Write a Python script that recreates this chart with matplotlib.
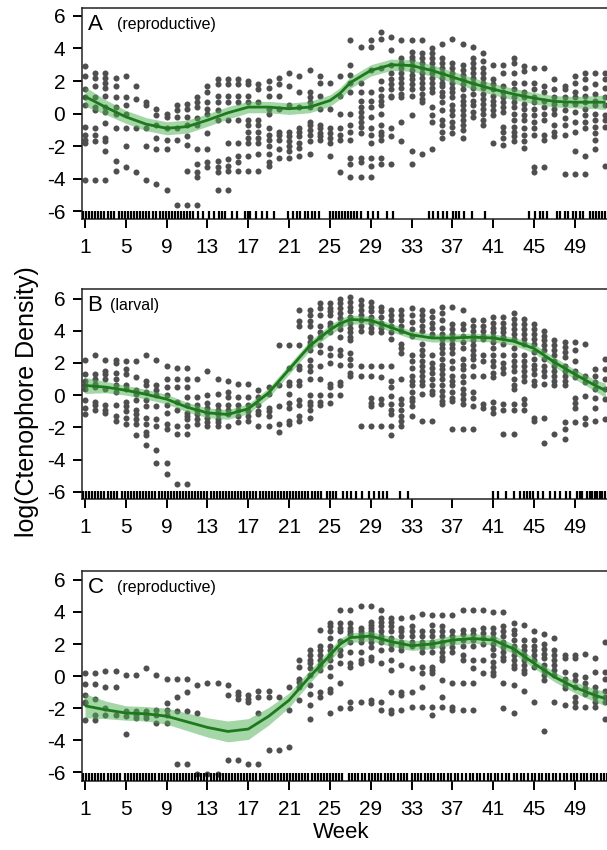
import numpy as np
import matplotlib
matplotlib.use('Agg')
import matplotlib.pyplot as plt

plt.rcParams['font.family'] = ['Liberation Sans', 'DejaVu Sans']

# log(ctenophore density) observations per week (weeks 1..52), three panels
weeks = list(range(1, 53))

pts_a = [
    [2.9, 2.3, 1.5, 1.0, 0.5, -0.8, -1.3, -1.6, -1.8, -4.1],
    [2.5, 2.2, 1.7, 1.0, 0.4, 0.2, -0.9, -1.3, -1.7, -4.1],
    [2.5, 2.2, 1.9, 1.6, 1.1, 0.4, 0.1, -0.6, -1.5, -1.7, -2.3, -4.1],
    [2.2, 1.7, 1.0, 0.4, 0.0, -0.9, -2.9, -3.5],
    [2.3, 1.0, 0.5, 0.0, -0.9, -2.0, -3.3],
    [1.7, 0.9, -0.9, -3.6],
    [0.7, 0.5, -0.9, -2.0, -4.1],
    [0.3, -0.1, -0.7, -1.5, -2.2, -4.3],
    [0.0, -0.2, -0.9, -1.6, -2.2, -4.7],
    [0.5, 0.2, -0.2, -0.9, -1.6, -5.6],
    [0.6, 0.3, -0.2, -0.7, -1.4, -1.9, -3.5, -5.6],
    [1.0, 0.7, 0.4, -0.3, -0.7, -2.2, -3.1, -3.6, -3.9, -5.6],
    [1.7, 1.3, 0.7, 0.3, 0.0, -1.2, -2.2, -3.0, -3.3],
    [2.1, 1.8, 1.1, 0.7, 0.2, -0.4, -2.9, -3.3, -3.6, -4.7],
    [2.1, 1.8, 1.1, 0.7, -0.4, -1.8, -2.8, -3.2, -3.5, -4.7],
    [2.1, 1.8, 1.1, 0.7, -0.4, -1.8, -2.6, -3.0, -3.5],
    [2.0, 1.8, 1.1, 0.7, -0.4, -0.7, -1.1, -1.5, -1.8, -2.6, -3.5],
    [1.8, 1.5, 0.7, -0.4, -0.7, -1.1, -1.5, -1.8, -2.5, -3.5],
    [2.0, 1.6, 1.1, 0.3, 0.0, -0.9, -1.3, -1.6, -2.0, -2.5, -3.0, -3.2],
    [2.2, 1.8, 1.1, 0.3, -1.1, -1.3, -1.6, -2.2, -2.7],
    [2.5, 1.7, 0.5, -1.1, -1.4, -1.7, -2.0, -2.3, -2.7],
    [2.3, 1.3, 0.4, -0.9, -1.1, -1.4, -1.8, -2.1, -2.6],
    [2.7, 1.3, 1.0, 0.7, 0.4, -0.5, -0.7, -1.0, -1.3, -1.7, -2.5],
    [2.3, 1.9, 1.1, 0.3, -0.7, -0.9, -1.2, -1.4, -1.6],
    [1.9, 0.3, -0.9, -1.2, -1.5, -1.8, -2.6],
    [2.3, 1.1, 0.0, -0.9, -1.3, -1.6, -3.6],
    [4.5, 3.0, 2.4, 1.9, 1.3, 0.0, -0.7, -1.1, -1.6, -2.7, -3.1, -3.9],
    [4.1, 1.9, 1.3, 0.8, 0.4, 0.1, -0.2, -0.5, -0.8, -1.2, -2.7, -3.0, -3.9],
    [4.5, 4.1, 2.7, 1.3, 0.8, 0.4, -0.2, -0.9, -1.3, -1.8, -2.7, -3.2, -3.9],
    [5.0, 4.6, 2.8, 2.0, 1.5, 1.1, 0.8, 0.5, 0.0, -0.7, -1.1, -1.3, -1.6, -2.7, -3.1],
    [4.7, 3.9, 3.0, 2.5, 2.1, 1.8, 1.5, 1.1, 1.0, -0.9, -1.4, -3.1],
    [4.5, 3.4, 3.1, 2.8, 2.5, 2.2, 1.9, 1.6, 1.2, 1.0, -0.5, -1.7],
    [4.5, 3.8, 3.5, 3.3, 3.0, 2.7, 2.4, 2.1, 1.8, 1.5, 1.1, -0.1, -2.3, -3.1],
    [4.5, 3.7, 3.4, 3.1, 2.8, 2.5, 2.2, 1.9, 1.6, 1.2, 0.9, 0.7, -2.5],
    [4.0, 3.7, 3.4, 3.1, 2.8, 2.5, 2.2, 1.9, 1.6, 1.3, 0.4, -0.1, -0.5, -2.2],
    [4.3, 3.4, 3.1, 2.8, 2.5, 2.2, 1.9, 1.7, 1.3, 1.1, 0.7, 0.2, -0.4, -0.7, -1.1, -1.5],
    [4.6, 3.1, 2.8, 2.5, 2.2, 1.9, 1.6, 1.3, 1.0, 0.5, 0.2, -0.1, -0.5, -0.8, -1.2],
    [4.3, 3.0, 2.7, 2.4, 2.1, 1.8, 1.5, 1.1, 0.8, 0.5, 0.2, -0.1, -0.4, -0.7, -1.0, -1.5],
    [4.1, 3.4, 3.1, 2.8, 2.5, 2.2, 1.9, 1.6, 1.2, 0.8, 0.5, 0.1, -0.2],
    [3.7, 3.2, 2.8, 2.5, 2.2, 1.9, 1.6, 1.2, 0.9, 0.6, 0.3, 0.0, -0.4, -0.7],
    [3.0, 2.1, 1.8, 1.5, 1.1, 0.8, 0.5, 0.2, -0.1, -1.8],
    [3.0, 2.5, 1.7, 1.3, 1.0, 0.7, 0.4, 0.1, -0.8, -1.1, -1.5, -1.9],
    [3.4, 3.1, 2.5, 1.9, 1.5, 1.0, 0.7, 0.4, 0.0, -0.4, -0.8, -1.1, -1.4, -1.7],
    [2.9, 2.6, 1.9, 1.3, 1.0, 0.6, 0.3, -0.1, -0.4, -0.9, -1.3, -1.7, -2.1],
    [2.8, 1.9, 1.5, 1.0, 0.7, 0.3, -0.1, -0.5, -0.9, -1.3, -3.3, -3.6],
    [2.8, 1.7, 1.3, 0.8, 0.4, 0.0, -0.4, -1.3, -1.6, -3.3],
    [2.1, 1.5, 1.0, 0.6, 0.3, 0.0, -0.7, -1.1, -1.4],
    [1.7, 1.5, 1.0, 0.6, 0.2, -0.3, -0.7, -1.3, -3.7],
    [2.3, 1.9, 1.3, 1.0, 0.6, 0.1, -0.5, -1.1, -2.3, -3.7],
    [2.5, 2.1, 1.6, 1.1, 0.7, 0.3, -0.1, -0.5, -0.9, -2.6, -3.7],
    [2.5, 1.8, 1.2, 0.8, 0.5, 0.0, -0.4, -0.8, -1.2, -1.6, -2.2],
    [2.5, 2.1, 1.6, 1.0, 0.5, -0.1, -0.4, -0.8, -3.2],
]

pts_b = [
    [2.2, 1.3, 0.9, 0.6, 0.4, -0.3, -0.8, -1.2],
    [2.5, 1.3, 1.0, 0.7, 0.5, -0.4, -0.6, -0.9],
    [2.2, 1.5, 1.3, 1.0, 0.4, -0.6, -0.9, -1.1],
    [2.2, 2.0, 1.4, 1.0, 0.6, 0.2, -0.6, -1.3, -1.6],
    [2.1, 1.6, 1.3, 0.6, 0.4, -0.4, -0.7, -1.0, -1.4, -1.8],
    [2.1, 1.1, 0.3, 0.1, -0.3, -0.9, -1.2, -1.5, -1.8, -2.5],
    [2.5, 0.9, 0.6, 0.2, -0.3, -0.7, -1.4, -1.8, -2.3, -2.5, -3.1],
    [2.2, 0.6, 0.3, 0.0, -0.7, -1.5, -1.9, -3.4, -4.2],
    [1.8, 1.0, 0.5, 0.0, -0.6, -1.1, -1.8, -2.1, -4.2, -4.9],
    [1.7, 1.0, 0.5, -0.4, -0.9, -1.9, -2.4, -5.5],
    [1.7, 1.0, 0.5, -0.1, -0.6, -1.1, -1.3, -1.5, -1.9, -2.4, -5.5],
    [1.0, -0.1, -0.6, -0.9, -1.2, -1.5, -1.8],
    [1.5, 0.0, -0.5, -0.8, -1.1, -1.4, -1.7, -1.9],
    [1.0, 0.1, -0.6, -0.9, -1.2, -1.5, -1.7, -1.9],
    [0.9, 0.2, -0.1, -0.6, -0.9, -1.2, -1.9],
    [0.7, -0.1, -0.6, -0.9, -1.3, -1.7],
    [0.7, -0.1, -0.6, -1.0, -1.3, -1.6],
    [0.3, -0.1, -0.6, -1.0, -1.2, -1.9],
    [0.5, 0.1, -0.8, -1.0, -1.3, -1.9],
    [3.1, 0.6, -0.7, -1.8, -2.3],
    [3.1, 1.7, 0.8, 0.6, 0.1, -0.5, -0.8, -1.6, -1.8],
    [5.3, 4.6, 4.3, 3.1, 1.8, 1.6, 0.9, 0.6, -0.3, -0.6, -1.3, -1.6],
    [5.3, 5.0, 4.6, 4.3, 3.6, 3.3, 3.1, 2.8, 2.2, 1.8, 1.5, 1.0, 0.0, -0.4, -0.6, -0.9, -1.4],
    [5.7, 5.4, 5.0, 4.3, 3.9, 3.6, 3.1, 2.7, 1.8, 1.0, 0.0, -0.4, -0.6],
    [5.7, 5.4, 5.2, 5.0, 4.5, 4.3, 3.9, 2.9, 2.5, 2.0, 0.7, 0.5, 0.0, -0.5],
    [6.0, 5.7, 5.4, 5.1, 4.8, 4.4, 4.1, 3.6, 2.8, 2.5, 1.9, 0.8, 0.6, 0.0],
    [6.1, 5.8, 5.5, 5.2, 4.85, 4.5, 4.2, 3.9, 3.6, 3.4, 2.6, 2.25, 1.9, 1.4, 1.2],
    [5.9, 5.6, 5.3, 5.0, 4.65, 4.3, 4.0, 1.8, 1.2, -1.9],
    [5.8, 5.5, 5.2, 4.85, 4.5, 4.2, 3.9, 1.8, 1.2, -0.15, -0.5, -0.7, -1.9],
    [5.5, 5.2, 4.85, 4.5, 4.2, 3.9, 1.8, 1.1, -0.25, -0.56, -1.9],
    [5.3, 5.0, 4.65, 4.3, 3.9, 3.5, 1.8, 0.9, 0.5, -0.05, -0.56, -0.9, -1.2, -1.9, -2.5],
    [5.3, 5.0, 4.65, 4.3, 4.0, 3.2, 2.9, 2.6, 1.0, -0.25, -0.56, -0.9, -1.3, -1.6, -1.9],
    [5.4, 5.0, 4.55, 4.1, 3.7, 2.5, 2.15, 1.7, 1.2, 0.9, 0.6, 0.2, -0.15, -0.35, -0.7, -1.3],
    [5.3, 5.0, 4.65, 4.3, 4.0, 3.2, 2.8, 2.5, 2.15, 1.8, 1.5, 1.2, 0.9, 0.6, 0.06, -1.6],
    [5.2, 4.85, 4.5, 4.2, 3.8, 2.5, 2.0, 1.7, 1.4, 1.0, 0.6, 0.27, 0.06, -1.6],
    [5.5, 5.1, 4.65, 4.2, 3.8, 3.5, 3.2, 2.9, 2.6, 2.25, 1.9, 1.6, 1.3, 1.0, 0.6, 0.27, -0.05, -0.35, -0.56],
    [5.5, 4.4, 4.1, 3.8, 3.5, 3.2, 2.9, 2.6, 2.15, 1.7, 1.2, 0.9, 0.6, 0.2, -0.15, -0.35, -2.1],
    [5.3, 4.4, 4.1, 3.7, 3.3, 2.9, 2.25, 1.9, 1.6, 1.2, 0.8, 0.4, 0.06, -0.25, -0.56, -2.1],
    [4.65, 4.3, 4.0, 3.7, 3.4, 3.1, 2.8, 2.5, 2.25, 1.8, 1.2, 0.2, -0.15, -0.7, -2.1],
    [4.65, 4.3, 4.0, 3.7, 3.5, 2.5, 2.15, 1.2, -0.56, -0.77],
    [4.85, 4.5, 4.2, 3.9, 3.6, 3.3, 2.9, 2.5, 2.15, 1.8, 1.4, 1.1, -0.45, -0.77, -1.1],
    [4.85, 4.5, 4.2, 3.9, 3.6, 3.2, 2.5, 2.0, 1.7, 1.4, -0.56, -0.9, -2.4],
    [5.1, 4.75, 4.4, 4.1, 3.8, 3.5, 2.9, 2.5, 2.15, 1.8, 1.5, 1.0, 0.6, 0.4, -0.56, -0.9, -2.4],
    [4.75, 4.4, 4.1, 3.8, 3.5, 3.2, 2.5, 2.15, 1.8, 1.5, 1.2, 0.9, -0.25, -0.56, -0.9],
    [4.4, 4.1, 3.8, 3.5, 3.2, 2.7, 2.25, 1.9, 1.6, 1.3, 0.9, 0.6, -1.4, -1.6],
    [4.0, 3.7, 3.4, 3.1, 2.8, 2.25, 1.8, 1.5, 1.2, 0.7, -1.4, -2.95],
    [3.4, 3.1, 2.8, 2.5, 2.15, 1.8, 1.5, 1.2, 0.9, 0.6, -2.4],
    [3.3, 3.0, 2.7, 2.35, 1.8, 1.5, 1.2, 0.9, 0.6, -1.7, -2.1, -2.75],
    [3.3, 2.8, 2.15, 1.5, 1.1, -0.15, -0.5, -0.8, -1.7],
    [3.2, 1.2, 0.8, -0.05, -1.4, -1.8],
    [1.6, 1.2, 0.8, 0.4, -0.15, -0.8, -1.6],
    [2.25, 1.6, 1.0, 0.4, -0.25, -1.5],
]

pts_c = [
    [0.2, -0.5, -1.2, -1.6, -1.7, -2.75],
    [0.2, -0.5, -1.4, -2.4, -2.75],
    [0.3, -0.7, -2.0, -2.4],
    [0.3, -0.7, -2.4],
    [0.1, -2.2, -2.5, -3.6],
    [0.1, -2.2, -2.4, -2.6],
    [0.5, -2.2, -2.4, -2.6],
    [0.1, -2.1, -2.4, -2.95],
    [-0.15, -1.7, -2.1, -2.4, -2.95],
    [-0.15, -1.3, -2.2, -5.5],
    [-0.15, -1.0, -2.2, -5.5],
    [-0.56, -2.3, -6.1],
    [-0.45, -6.1],
    [-0.45, -6.1],
    [-0.56, -1.2, -5.25],
    [-1.0, -1.2, -1.4, -5.25],
    [-1.2, -1.4, -1.6, -5.5],
    [-0.9, -1.3, -2.3, -5.5],
    [-0.9, -1.3, -4.6],
    [-1.3, -4.6],
    [-0.7, -2.1, -4.4],
    [1.0, 0.6, -0.15, -0.35, -0.7, -1.5],
    [1.6, 1.3, 1.0, 0.8, 0.5, 0.06, -0.56, -1.1, -1.8, -2.65],
    [2.9, 1.9, 1.6, 1.3, 1.0, 0.7, 0.4, -1.0, -1.3],
    [3.3, 3.1, 2.8, 2.35, 1.9, 1.6, 1.3, 1.0, 0.6, 0.0, -0.8, -1.0, -2.3],
    [4.1, 3.3, 3.0, 2.8, 2.2, 1.6, 1.3, 0.8, -0.4, -2.0],
    [4.1, 3.3, 3.0, 2.8, 2.6, 2.15, 1.5, 0.8, 0.6, -1.6, -2.0],
    [4.4, 3.0, 2.8, 2.6, 2.35, 2.15, 1.5, 1.0, 0.8, -1.6],
    [4.4, 3.4, 3.2, 3.0, 2.8, 2.6, 2.35, 2.15, 1.8, 1.2, 1.0, -1.5, -1.7],
    [4.1, 3.6, 3.4, 3.1, 2.8, 2.5, 2.15, 1.6, 0.8, -1.6, -2.1],
    [3.6, 3.4, 3.1, 2.8, 2.35, 2.0, 1.7, 1.0, 0.4, -1.0, -2.1, -2.3],
    [3.6, 3.0, 2.8, 2.5, 2.15, 1.9, 1.6, 0.7, -1.0, -1.2, -2.1],
    [3.7, 3.1, 2.8, 2.5, 2.15, 1.9, 0.5, -1.0, -1.9],
    [3.9, 2.8, 2.5, 2.15, 1.8, 1.5, 0.6, 0.2, -0.7, -1.9],
    [3.8, 3.2, 2.8, 2.5, 2.15, 1.9, 1.5, 0.6, 0.4, 0.2, -1.9, -2.4],
    [3.8, 3.1, 2.8, 2.5, 2.15, 1.8, 1.5, 1.2, 1.0, -0.25, -1.3, -1.9],
    [3.8, 2.8, 2.5, 2.15, 1.8, 1.5, -0.45, -1.9, -2.1],
    [4.1, 2.9, 2.6, 2.25, 1.9, 1.3, 1.0, -0.45, -2.1],
    [4.1, 2.9, 2.6, 2.25, 1.9, 1.0, 0.5, -0.45, -2.1],
    [4.1, 3.0, 2.7, 2.35, 2.0, 1.0, 0.2],
    [4.0, 3.0, 2.7, 2.35, 2.0, 1.7, 1.3, 0.9, 0.6, 0.27, 0.06],
    [4.0, 3.1, 2.8, 2.5, 2.15, 1.8, 1.5, 1.2, 1.0, -0.45, -2.0],
    [3.3, 2.9, 2.6, 2.25, 1.9, 1.6, 1.3, 1.0, 0.7, 0.5, -0.56, -2.3],
    [3.2, 2.25, 1.9, 1.6, 1.3, 1.0, 0.7, 0.4, 0.2, -0.9],
    [2.8, 2.25, 1.9, 1.6, 1.3, 1.0, 0.6, -1.6],
    [2.6, 2.0, 1.7, 1.4, 1.1, 0.7, 0.4, 0.06, -0.25, -3.4],
    [2.35, 1.6, 1.3, 1.0, 0.7, 0.4, 0.06, -1.6],
    [1.3, 1.1, 0.27, -0.15, -0.56, -0.77, -1.8],
    [1.3, 1.1, 0.06, -0.25, -0.7, -1.3, -1.6, -1.9],
    [1.4, -0.05, -0.45, -0.77, -1.1, -1.9],
    [1.1, 0.27, -0.7, -1.0, -1.3, -1.6, -1.9],
    [2.15, 0.27, -0.15, -0.9, -1.3, -1.6, -2.65],
]

# smoothed trend and half-width of its confidence band
fit_weeks = [1, 3, 5, 7, 9, 11, 13, 15, 17, 19, 21, 23, 25, 26, 27, 29, 31,
             33, 35, 37, 39, 41, 43, 45, 47, 49, 51, 52]
fit_a = [1.05, 0.4, -0.2, -0.65, -0.9, -0.8, -0.4, 0.05, 0.4, 0.4, 0.3, 0.4, 0.8,
         1.25, 1.9, 2.65, 3.0, 2.95, 2.65, 2.25, 1.85, 1.5, 1.2, 0.95, 0.75, 0.7, 0.7, 0.7]
half_a = [0.6, 0.45, 0.4, 0.4, 0.4, 0.4, 0.38, 0.38, 0.35, 0.35, 0.35, 0.35, 0.35,
          0.35, 0.35, 0.35, 0.35, 0.35, 0.35, 0.35, 0.35, 0.35, 0.35, 0.35, 0.35, 0.35, 0.4, 0.45]
fit_b = [0.6, 0.5, 0.3, 0.05, -0.25, -0.75, -1.1, -1.2, -0.85, 0.15, 1.6, 3.05, 4.05,
         4.45, 4.7, 4.65, 4.2, 3.75, 3.55, 3.55, 3.6, 3.55, 3.35, 2.9, 2.05, 1.3, 0.6, 0.3]
half_b = [0.5, 0.35, 0.3, 0.3, 0.3, 0.3, 0.3, 0.3, 0.3, 0.3, 0.3, 0.3, 0.3,
          0.3, 0.28, 0.25, 0.25, 0.25, 0.25, 0.25, 0.25, 0.25, 0.25, 0.28, 0.3, 0.3, 0.35, 0.45]
fit_c = [-1.85, -2.1, -2.3, -2.35, -2.5, -2.85, -3.2, -3.45, -3.3, -2.5, -1.5, -0.05, 1.3,
         2.0, 2.4, 2.5, 2.15, 1.9, 2.0, 2.25, 2.35, 2.25, 1.7, 0.8, -0.05, -0.7, -1.2, -1.4]
half_c = [0.75, 0.55, 0.45, 0.45, 0.5, 0.55, 0.6, 0.65, 0.65, 0.55, 0.45, 0.4, 0.35,
          0.35, 0.3, 0.3, 0.3, 0.3, 0.3, 0.3, 0.3, 0.3, 0.3, 0.3, 0.3, 0.35, 0.4, 0.45]

# sampling dates (in weeks) shown as rug ticks
rug_a = [0.8, 1.1, 1.4, 1.7, 2.0, 2.3, 2.6, 2.9, 3.2, 3.5, 3.8, 4.3, 4.6, 4.9, 5.2,
         5.5, 5.8, 6.1, 6.4, 6.7, 7.0, 7.3, 7.7, 8.0, 8.3, 8.6, 8.9, 9.2, 9.5, 9.8,
         10.1, 10.4, 10.7, 11.0, 11.3, 11.6, 12.1, 12.6, 13.1, 13.6, 14.1, 14.4, 14.7,
         15.4, 15.9, 16.7, 17.0, 17.2, 17.8, 18.3, 18.8, 19.5, 20.9, 21.4, 21.75, 22.1,
         22.6, 22.9, 23.2, 23.5, 23.9, 25.0, 25.3, 25.6, 25.9, 26.2, 26.5, 26.8, 27.1,
         27.4, 27.7, 28.0, 28.7, 29.2, 29.7, 30.6, 31.2, 34.7, 35.1, 35.6, 36.1, 36.5,
         37.1, 37.4, 37.7, 38.1, 38.9, 40.2, 44.5, 45.1, 45.6, 45.9, 46.3, 47.3, 47.6,
         48.0, 48.3, 48.8, 49.1, 49.5, 49.8, 50.5, 50.8, 51.1, 51.4, 51.7, 52.0, 52.3]
rug_b = [0.8, 1.1, 1.4, 1.7, 2.0, 2.3, 2.6, 2.9, 3.2, 3.5, 3.8, 4.1, 4.6, 4.9, 5.2,
         5.5, 5.8, 6.1, 6.4, 6.7, 7.0, 7.3, 7.6, 7.9, 8.2, 8.5, 8.8, 9.1, 9.4, 9.7,
         10.0, 10.3, 10.6, 10.9, 11.2, 11.5, 11.8, 12.1, 12.4, 12.7, 13.0, 13.3, 13.6,
         13.9, 14.2, 14.5, 14.8, 15.1, 15.4, 15.7, 16.0, 16.3, 16.6, 16.9, 17.2, 17.5,
         17.8, 18.1, 18.4, 18.7, 19.0, 19.3, 19.6, 19.9, 20.2, 20.5, 20.8, 21.1, 21.4,
         21.7, 22.0, 22.3, 22.6, 22.9, 23.2, 23.5, 23.8, 24.1, 24.7, 25.0, 25.3, 25.6,
         26.3, 26.65, 27.1, 27.6, 28.1, 28.8, 29.3, 29.8, 30.2, 30.6, 31.9, 32.7, 41.0,
         41.5, 42.3, 43.0, 43.6, 44.0, 44.3, 44.6, 44.9, 45.4, 45.9, 46.6, 47.1, 47.6,
         48.1, 48.5, 49.2, 49.5, 49.7, 50.2, 50.5, 50.7, 51.0, 51.2, 51.5, 51.7, 52.0, 52.3]
rug_c = [0.8, 1.1, 1.4, 1.7, 2.0, 2.3, 2.6, 2.9, 3.2, 3.5, 3.8, 4.1, 4.4, 4.9, 5.2,
         5.5, 5.8, 6.1, 6.4, 6.7, 7.0, 7.3, 7.6, 7.9, 8.2, 8.5, 8.8, 9.1, 9.4, 9.7,
         10.0, 10.3, 10.6, 10.9, 11.2, 11.5, 11.8, 12.1, 12.4, 12.7, 13.0, 13.3, 13.6,
         13.9, 14.2, 14.5, 14.8, 15.1, 15.4, 15.7, 16.0, 16.3, 16.6, 16.9, 17.2, 17.5,
         17.8, 18.1, 18.4, 18.7, 19.0, 19.3, 19.6, 19.9, 20.2, 20.5, 20.8, 21.1, 21.4,
         21.7, 22.0, 22.3, 22.6, 22.9, 23.2, 23.5, 23.8, 24.1, 24.4, 24.7, 25.0, 25.3,
         25.6, 25.9, 26.2, 26.9, 27.2, 27.5, 27.8, 28.1, 28.4, 28.8, 29.1, 29.4, 29.7,
         30.0, 30.4, 30.7, 31.0, 31.3, 31.7, 32.0, 32.3, 32.6, 33.0, 33.3, 33.6, 33.9,
         34.3, 34.6, 34.9, 35.2, 35.6, 35.9, 36.2, 36.6, 36.9, 37.3, 37.6, 37.9, 38.3,
         38.7, 39.0, 39.4, 39.7, 40.1, 40.5, 40.8, 41.2, 41.5, 41.9, 42.3, 42.6, 43.0,
         43.3, 43.7, 44.0, 44.4, 44.8, 45.1, 45.5, 45.8, 46.2, 46.5, 46.9, 47.2, 47.6,
         47.9, 48.2, 48.6, 48.9, 49.2, 49.6, 49.9, 50.2, 50.6, 50.9, 51.2, 51.6, 51.9, 52.2]

xtick_weeks = [1, 5, 9, 13, 17, 21, 25, 29, 33, 37, 41, 45, 49]
yticks = [-6, -4, -2, 0, 2, 4, 6]

fig = plt.figure(figsize=(6.07, 8.5), dpi=100)

panels = [
    # rect, points, fit, half width, rug, ylim, letter, tag, tag offset
    ([0.1351, 0.7418, 0.879, 0.2485], pts_a, fit_a, half_a, rug_a, (-6.5, 6.47), 'A', '(reproductive)', 25),
    ([0.1351, 0.4130, 0.879, 0.2475], pts_b, fit_b, half_b, rug_b, (-6.45, 6.62), 'B', '(larval)', 20.5),
    ([0.1351, 0.0812, 0.879, 0.2471], pts_c, fit_c, half_c, rug_c, (-6.54, 6.56), 'C', '(reproductive)', 25),
]

for rect, pts, fit, half, rug, ylim, letter, tag, tag_dx in panels:
    ax = fig.add_axes(rect)
    xs = np.concatenate([[w] * len(v) for w, v in zip(weeks, pts)])
    ys = np.concatenate([np.array(v, dtype=float) for v in pts])
    ax.scatter(xs, ys, s=19, color='#4f4f4f', linewidths=0, zorder=2)

    fw = np.array(fit_weeks, dtype=float)
    fit = np.array(fit)
    half = np.array(half)
    ax.fill_between(fw, fit - half, fit + half, color='#4caf50', alpha=0.5, lw=0, zorder=3)
    ax.plot(fw, fit, color='#1c7a1c', lw=2.0, zorder=4, solid_capstyle='butt')

    ax.vlines(rug, 0, 0.038, transform=ax.get_xaxis_transform(), colors='black', lw=1.6, zorder=5)

    ax.set_xlim(0.7, 53.0)
    ax.set_ylim(*ylim)
    ax.set_xticks(xtick_weeks)
    ax.set_yticks(yticks)
    ax.set_yticklabels([str(t) for t in yticks])
    ax.tick_params(direction='out', length=6.5, width=1.4, pad=5.5, labelsize=15, colors='black')
    ax.tick_params(axis='x', pad=7)
    for s in ax.spines.values():
        s.set_linewidth(1.1)
        s.set_color('#222222')

    ax.annotate(letter, xy=(0, 1), xycoords='axes fraction', xytext=(4.0, -12),
                textcoords='offset points', ha='left', va='center', fontsize=16)
    ax.annotate(tag, xy=(0, 1), xycoords='axes fraction', xytext=(tag_dx, -12),
                textcoords='offset points', ha='left', va='center', fontsize=11.5)

fig.text(0.044, 0.528, 'log(Ctenophore Density)', rotation=90, ha='center', va='center', fontsize=18)
fig.text(0.562, 0.02, 'Week', ha='center', va='center', fontsize=16)

fig.savefig('out.png', dpi=100)
